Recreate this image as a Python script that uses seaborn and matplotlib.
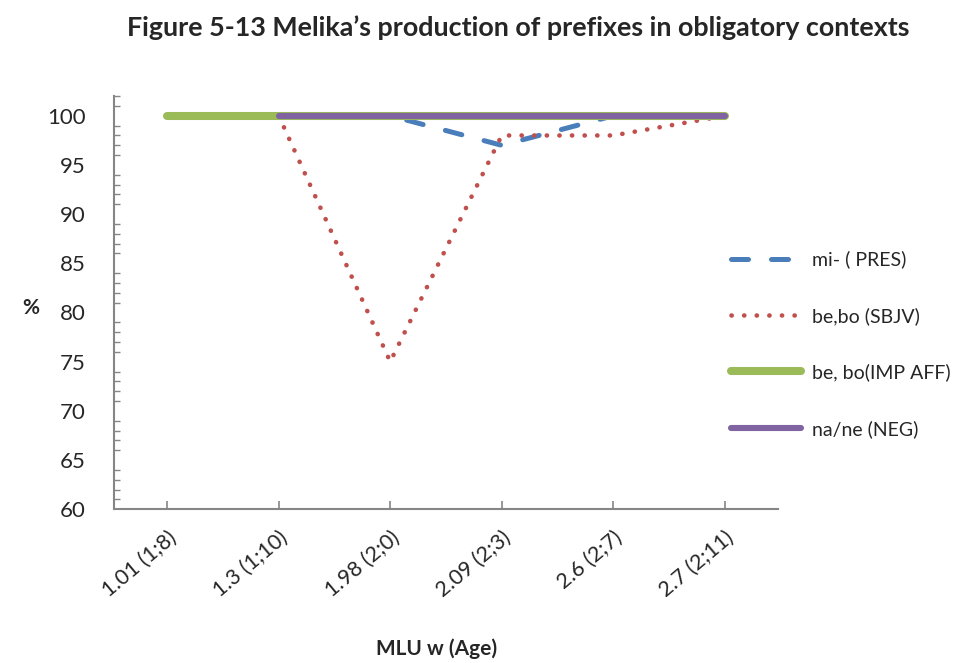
import numpy as np
import pandas as pd
import matplotlib
matplotlib.use("Agg")
import matplotlib.pyplot as plt
from matplotlib.ticker import MultipleLocator
import seaborn as sns

# MLU in words with age (years;months) for each recording
categories = ["1.01 (1;8)", "1.3 (1;10)", "1.98 (2;0)", "2.09 (2;3)", "2.6 (2;7)", "2.7 (2;11)"]

# Percentage of correct prefix use in obligatory contexts
mi_pres = [100, 100, 100, 97, 100, 100]
be_bo_sbjv = [np.nan, 100, 75, 98, 98, 100]
be_bo_imp_aff = [100, 100, 100, 100, 100, 100]
na_ne_neg = [np.nan, 100, 100, 100, 100, 100]

series_names = ["mi- ( PRES)", "be,bo (SBJV)", "be, bo(IMP AFF)", "na/ne (NEG)"]
series_values = [mi_pres, be_bo_sbjv, be_bo_imp_aff, na_ne_neg]

df = pd.DataFrame({
    "pos": np.tile(np.arange(len(categories)), len(series_names)),
    "value": np.concatenate(series_values),
    "series": np.repeat(series_names, len(categories)),
})

sns.set_theme(style="white")
plt.rcParams["font.family"] = ["Lato", "DejaVu Sans"]

fig = plt.figure(figsize=(9.56, 6.63), dpi=100)
ax = fig.add_axes([0.119, 0.232, 0.695, 0.623])

styles = {
    "mi- ( PRES)": dict(color="#4a7ebb", lw=3.6, dashes=(3.4, 4.6), dash_capstyle="round"),
    "be,bo (SBJV)": dict(color="#c0504d", lw=3.3, dashes=(0.05, 2.7), dash_capstyle="round"),
    "be, bo(IMP AFF)": dict(color="#9bbb59", lw=5.8, solid_capstyle="round"),
    "na/ne (NEG)": dict(color="#8064a2", lw=4.4, solid_capstyle="round"),
}

for name in series_names:
    st = dict(styles[name])
    dashes = st.pop("dashes", None)
    sub = df[df["series"] == name].dropna()
    sns.lineplot(data=sub, x="pos", y="value", ax=ax, label=name, **st)
    if dashes is not None:
        ax.lines[-1].set_dashes(dashes)

ax.set_xlim(-0.48, 5.48)
ax.set_xticks(np.arange(len(categories)))
ax.set_xticklabels(categories, rotation=40, ha="right", rotation_mode="anchor", fontsize=15.5)
ax.set_yticks(np.arange(60, 101, 5))
ax.yaxis.set_minor_locator(MultipleLocator(1))
ax.set_ylim(60, 102)
ax.tick_params(axis="y", which="major", direction="in", length=6, width=1.2, color="#868686", labelsize=16, pad=20)
ax.tick_params(axis="y", which="minor", direction="in", length=4, width=1.0, color="#868686", left=True)
ax.tick_params(axis="x", which="major", direction="in", length=6, width=1.2, color="#868686", pad=13, bottom=True)

for s in ["top", "right"]:
    ax.spines[s].set_visible(False)
for s in ["left", "bottom"]:
    ax.spines[s].set_color("#868686")
    ax.spines[s].set_linewidth(1.5)

ax.set_xlabel("")
ax.set_ylabel("")
fig.text(0.023, 0.535, "%", fontsize=15, fontweight="bold", ha="left", va="center")
fig.text(0.457, 0.022, "MLU w (Age)", fontsize=15, fontweight="bold", ha="center", va="center")
fig.text(0.542, 0.958, "Figure 5-13 Melika\u2019s production of prefixes in obligatory contexts",
         fontsize=19.4, fontweight="bold", ha="center", va="center")

leg = ax.legend(loc="upper left", bbox_to_anchor=(0.917, 0.645), frameon=False, fontsize=14,
                handlelength=3.6, handletextpad=0.6, labelspacing=1.98, borderaxespad=0)

fig.savefig("out.png", dpi=100)
